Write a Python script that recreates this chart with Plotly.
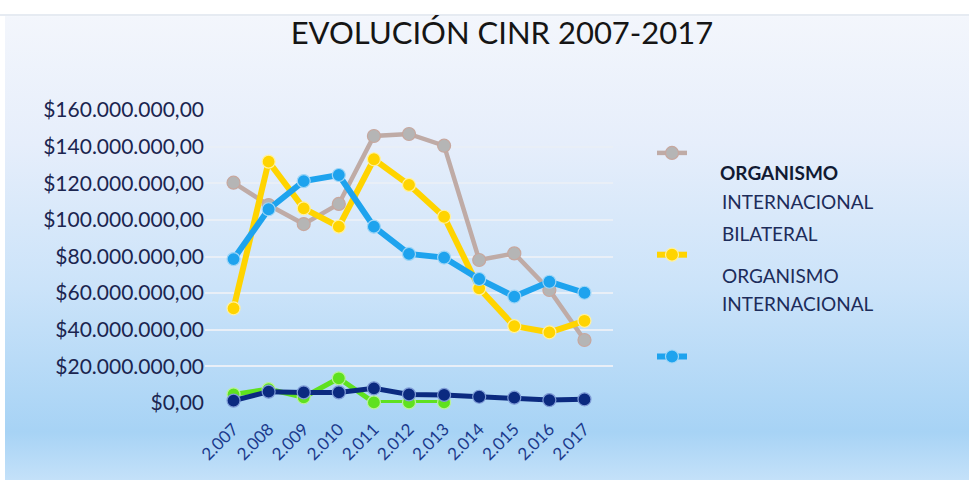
import base64
import plotly.graph_objects as go

# ---------------- data ----------------
years = ["2.007", "2.008", "2.009", "2.010", "2.011", "2.012",
         "2.013", "2.014", "2.015", "2.016", "2.017"]

gray_vals = [120_300_000, 108_100_000, 97_700_000, 108_700_000, 145_800_000,
             146_900_000, 140_500_000, 78_100_000, 81_700_000, 61_700_000, 34_400_000]
yellow_vals = [51_700_000, 131_800_000, 106_300_000, 96_300_000, 133_100_000,
               119_100_000, 101_700_000, 62_600_000, 42_000_000, 38_600_000, 44_900_000]
blue_vals = [78_600_000, 105_800_000, 121_200_000, 124_500_000, 96_300_000,
             81_400_000, 79_400_000, 67_700_000, 58_100_000, 66_200_000, 60_200_000]
green_vals = [4_700_000, 7_600_000, 3_100_000, 13_500_000, 300_000,
              300_000, 300_000, None, None, None, None]
navy_vals = [1_300_000, 6_200_000, 5_800_000, 5_800_000, 8_000_000,
             4_700_000, 4_400_000, 3_400_000, 2_900_000, 1_600_000, 2_000_000]

y_tick_vals = [0, 20_000_000, 40_000_000, 60_000_000, 80_000_000,
               100_000_000, 120_000_000, 140_000_000, 160_000_000]
y_tick_text = ["$0,00", "$20.000.000,00", "$40.000.000,00", "$60.000.000,00",
               "$80.000.000,00", "$100.000.000,00", "$120.000.000,00",
               "$140.000.000,00", "$160.000.000,00"]

title_text = "EVOLUCIÓN CINR 2007-2017"
legend_lines = ["ORGANISMO", "INTERNACIONAL", "BILATERAL", "ORGANISMO", "INTERNACIONAL"]

# ---------------- layout geometry ----------------
W, H = 969, 480
L, R, T, B = 205, 356, 110, 77
PW, PH = W - L - R, H - T - B


def px(x):
    return (x - L) / PW


def py(y):
    return (H - B - y) / PH


FONT = "Lato, 'Open Sans', sans-serif"

# gradient background as an svg image
svg = (
    f'<svg xmlns="http://www.w3.org/2000/svg" width="{W}" height="{H}" '
    f'viewBox="0 0 {W} {H}" preserveAspectRatio="none">'
    '<defs><linearGradient id="g" x1="0" y1="0" x2="0" y2="1">'
    '<stop offset="0" stop-color="#ffffff"/>'
    '<stop offset="0.03" stop-color="#ffffff"/>'
    '<stop offset="0.035" stop-color="#f3f6fc"/>'
    '<stop offset="0.3" stop-color="#e6eefb"/>'
    '<stop offset="0.6" stop-color="#cbe3f9"/>'
    '<stop offset="0.9" stop-color="#a7d3f5"/>'
    '<stop offset="1" stop-color="#c4e1f9"/>'
    '</linearGradient></defs>'
    f'<rect width="{W}" height="{H}" fill="url(#g)"/>'
    f'<rect x="0" y="14" width="{W}" height="2" fill="#e6ebf2"/>'
    f'<rect x="0" y="16" width="5" height="{H}" fill="#ffffff"/>'
    '</svg>'
)
bg_src = "data:image/svg+xml;base64," + base64.b64encode(svg.encode()).decode()

fig = go.Figure()

series = [
    ("Organismo internacional", gray_vals, "#bfaba6", "#b5b5b5", "#c7a79e", 4.5, True),
    ("Bilateral", yellow_vals, "#ffd400", "#ffd400", "#fff1a0", 6, True),
    ("Organismo internacional (2)", blue_vals, "#1ea3ee", "#1ea3ee", "#9fd6f7", 6, True),
    ("Otros", green_vals, "#5fe11f", "#5fe11f", "#b9f29a", 5, False),
    ("Total", navy_vals, "#0b2a80", "#0b2a80", "#7f9bd6", 5, False),
]

for i, (name, vals, lc, mc, mlc, lw, show) in enumerate(series):
    fig.add_trace(go.Scatter(
        x=years, y=vals, mode="lines+markers",
        name="", legendgroup=f"g{i}", showlegend=show,
        hovertemplate=name + ": %{y:$,.2f}<extra></extra>",
        line=dict(color=lc, width=lw),
        marker=dict(color=mc, size=13, line=dict(color=mlc, width=1.2)),
        cliponaxis=False,
    ))

annotations = []
legend_text_pos = [(718, 172, True), (720, 201, False), (720, 233, False),
                   (720, 275, False), (720, 303, False)]
for text, (x, y, bold) in zip(legend_lines, legend_text_pos):
    annotations.append(dict(
        text=f"<b>{text}</b>" if bold else text,
        xref="paper", yref="paper", x=px(x), y=py(y),
        xanchor="left", yanchor="middle", showarrow=False,
        font=dict(family=FONT, size=19, color="#1d2c5a" if not bold else "#111a33"),
    ))

fig.update_layout(
    width=W, height=H,
    margin=dict(l=L, r=R, t=T, b=B),
    paper_bgcolor="#ffffff",
    plot_bgcolor="rgba(0,0,0,0)",
    separators=",.",
    title=dict(text=title_text, x=502 / W, xanchor="center", y=1 - 33 / H,
               yanchor="middle", font=dict(family=FONT, size=31, color="#151515")),
    images=[dict(source=bg_src, xref="paper", yref="paper",
                 x=-L / PW, y=1 + T / PH, sizex=W / PW, sizey=H / PH,
                 xanchor="left", yanchor="top", sizing="stretch", layer="below")],
    xaxis=dict(
        type="category", showgrid=False, showline=False, zeroline=False,
        tickangle=-45, ticks="", ticklabelstandoff=12,
        tickfont=dict(family=FONT, size=17, color="#1b3a8c"),
    ),
    yaxis=dict(
        range=[0, 160_000_000], tickvals=y_tick_vals, ticktext=y_tick_text,
        showgrid=True, gridcolor="#e9eff7", gridwidth=2,
        zeroline=False, showline=False, ticks="",
        tickfont=dict(family=FONT, size=21, color="#1b2550"),
    ),
    legend=dict(
        x=px(652), y=py(136), xanchor="left", yanchor="top",
        bgcolor="rgba(0,0,0,0)", tracegroupgap=78, font=dict(size=16),
        itemwidth=30,
    ),
    annotations=annotations,
    showlegend=True,
)

fig.write_html("out.html", config={"displayModeBar": False},
               post_script="document.body.style.margin='0';")
